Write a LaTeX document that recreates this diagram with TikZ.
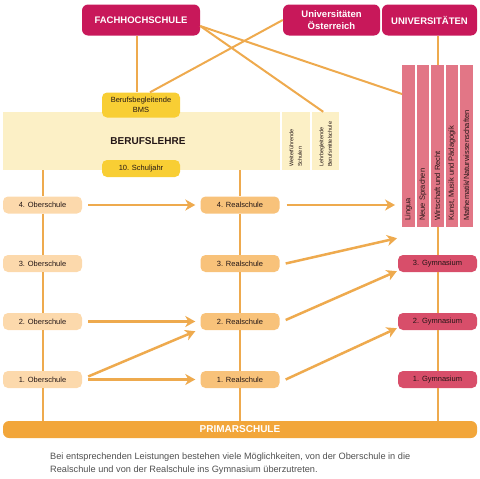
\documentclass[tikz,border=0pt]{standalone}
\usepackage{fontspec}
\setmainfont{Liberation Sans}
\usetikzlibrary{arrows.meta,calc}
\definecolor{crim}{RGB}{200,24,90}
\definecolor{gym}{RGB}{216,78,106}
\definecolor{colp}{RGB}{226,118,134}
\definecolor{oberc}{RGB}{252,217,172}
\definecolor{realc}{RGB}{248,194,122}
\definecolor{primc}{RGB}{242,166,58}
\definecolor{linec}{RGB}{238,170,78}
\definecolor{yel}{RGB}{248,206,52}
\definecolor{bandc}{RGB}{252,240,198}
\definecolor{txt}{RGB}{35,22,22}
\definecolor{capc}{RGB}{80,80,80}
\begin{document}
\begin{tikzpicture}[x=1pt,y=-1pt,
  conn/.style={draw=linec, line width=2pt},
  arr/.style={draw=linec, line width=2.5pt, -{Stealth[length=10pt,width=11pt,inset=3pt]}},
  sbox/.style={rounded corners=5pt, minimum height=17pt, minimum width=79pt, inner sep=0pt, text=txt, font=\fontsize{7.5}{9}\selectfont},
  ober/.style={sbox, fill=oberc},
  real/.style={sbox, fill=realc},
  gymb/.style={sbox, fill=gym},
  head/.style={rounded corners=6pt, fill=crim, text=white, minimum height=31pt, inner sep=0pt, font=\bfseries\fontsize{9.5}{12}\selectfont, align=center},
  yelb/.style={sbox, fill=yel, minimum width=78pt, align=center},
  fach/.style={fill=colp, minimum width=12.5pt, minimum height=162pt, inner sep=0pt},
  fachtxt/.style={rotate=90, anchor=west, inner sep=0pt, text=txt, font=\fontsize{7.5}{9}\selectfont},
  smalltxt/.style={rotate=90, anchor=west, inner sep=0pt, text=txt, align=left, font=\fontsize{5.5}{8.5}\selectfont},
  bandbox/.style={fill=bandc, minimum height=58pt, inner sep=0pt},
]
\useasboundingbox (0,0) rectangle (480,479);

% top institutions
\node[head, minimum width=118pt] (fh) at (141,20) {FACHHOCHSCHULE};
\node[head, minimum width=97pt] (unio) at (331.5,20) {Universitäten\\Österreich};
\node[head, minimum width=95pt] (uni) at (429.5,20) {UNIVERSITÄTEN};

% Berufslehre band
\node[bandbox, minimum width=277pt] (band) at (141.5,141) {};
\node[bandbox, minimum width=28.5pt] (wf) at (295.75,141) {};
\node[bandbox, minimum width=27.5pt] (lb) at (325.25,141) {};
\node[text=txt, font=\bfseries\fontsize{10}{12}\selectfont] (bl) at (148,141.5) {BERUFSLEHRE};
\node[smalltxt] (wft) at (295.75,167) {Weiterführende\\Schulen};
\node[smalltxt] (lbt) at (325.75,167) {Lehrbegleitende\\Berufsmittelschule};
\node[yelb, minimum height=25pt, font=\fontsize{7.5}{10.5}\selectfont] (bms) at (141,105) {Berufsbegleitende\\BMS};
\node[yelb] (sj) at (141,168.5) {10. Schuljahr};

% Gymnasium subject columns
\node[fach] (c1) at (408.5,146) {};
\node[fach] (c2) at (423,146) {};
\node[fach] (c3) at (437.5,146) {};
\node[fach] (c4) at (452,146) {};
\node[fach] (c5) at (466.5,146) {};
\node[fachtxt] (t1) at (408.5,221) {Lingua};
\node[fachtxt] (t2) at (423,221) {Neue Sprachen};
\node[fachtxt] (t3) at (437.5,221) {Wirtschaft und Recht};
\node[fachtxt] (t4) at (452,221) {Kunst, Musik und Pädagogik};
\node[fachtxt] (t5) at (466.5,221) {Mathematik/Naturwissenschaften};

% school years
\node[ober] (o4) at (42.5,205) {4. Oberschule};
\node[ober] (o3) at (42.5,263.5) {3. Oberschule};
\node[ober] (o2) at (42.5,321.5) {2. Oberschule};
\node[ober] (o1) at (42.5,379.5) {1. Oberschule};
\node[real] (r4) at (240,205) {4. Realschule};
\node[real] (r3) at (240,263.5) {3. Realschule};
\node[real] (r2) at (240,321.5) {2. Realschule};
\node[real] (r1) at (240,379.5) {1. Realschule};
\node[gymb] (g3) at (437.5,263.5) {3. Gymnasium};
\node[gymb] (g2) at (437.5,321.5) {2. Gymnasium};
\node[gymb] (g1) at (437.5,379.5) {1. Gymnasium};

\node[rounded corners=6pt, fill=primc, text=white, minimum width=474pt, minimum height=17pt, inner sep=0pt, font=\bfseries\fontsize{10}{12}\selectfont] (prim) at (240,429.5) {PRIMARSCHULE};

% connectors
\draw[conn] ([xshift=-4pt]fh.south) -- ([xshift=-4pt]bms.north);
\draw[conn] (unio.west) -- ([xshift=9pt]bms.north);
\draw[conn] ([yshift=-6pt]fh.east) -- ([xshift=-2pt]lb.north);
\draw[conn] ([yshift=-6pt]fh.east) -- ([yshift=52pt]c1.west);
\draw[conn] (uni.south -| c3.north) -- (c3.north);
\draw[conn] (c3) -- (g3);
\draw[conn] (g3) -- (g2);
\draw[conn] (g2) -- (g1);
\draw[conn] (g1) -- (g1 |- prim.north);
\draw[conn] (band.south -| o4) -- (o4);
\draw[conn] (o4) -- (o3);
\draw[conn] (o3) -- (o2);
\draw[conn] (o2) -- (o1);
\draw[conn] (o1) -- (o1 |- prim.north);
\draw[conn] (band.south -| r4) -- (r4);
\draw[conn] (r4) -- (r3);
\draw[conn] (r3) -- (r2);
\draw[conn] (r2) -- (r1);
\draw[conn] (r1) -- (r1 |- prim.north);

% arrows
\draw[arr] ([xshift=6pt]o4.east) -- ([xshift=-5pt]r4.west);
\draw[arr] ([xshift=6pt]o2.east) -- ([xshift=-5pt]r2.west);
\draw[arr] ([xshift=6pt]o1.east) -- ([xshift=-5pt]r1.west);
\draw[arr] ([xshift=6pt,yshift=3pt]o1.east) -- ($(r2.south west)+(-5pt,-1pt)$);
\draw[arr] ([xshift=7pt]r4.east) -- ($(c1.west |- r4.east)+(-7pt,0)$);
\draw[arr] ([xshift=6pt]r3.east) -- ($(c1.south west)+(-5pt,-11pt)$);
\draw[arr] ([xshift=6pt,yshift=1.5pt]r2.east) -- ($(g3.south west)+(-1pt,1pt)$);
\draw[arr] ([xshift=6pt]r1.east) -- ($(g2.south west)+(-1pt,2pt)$);

% caption
\node[anchor=north west, align=left, inner sep=0pt, text=capc, font=\fontsize{9.2}{13.5}\selectfont] (cap) at (50,452.5) {Bei entsprechenden Leistungen bestehen viele Möglichkeiten, von der Oberschule in die\\Realschule und von der Realschule ins Gymnasium überzutreten.};
\end{tikzpicture}
\end{document}
